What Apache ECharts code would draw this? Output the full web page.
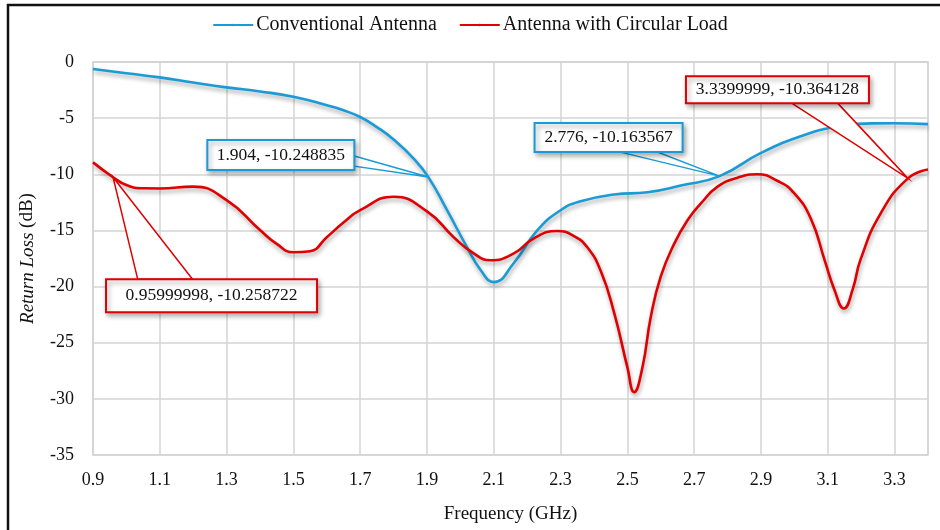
<!DOCTYPE html>
<html>
<head>
<meta charset="utf-8">
<script src="https://cdn.jsdelivr.net/npm/echarts@6/dist/echarts.min.js"></script>
<style>
  html, body { margin: 0; padding: 0; background: #fff; }
  #chart { width: 940px; height: 530px; }
</style>
</head>
<body>
<div id="chart"></div>
<script>
// frequency (GHz) / return loss (dB)
var convFreq = [0.9, 1.0, 1.1, 1.2, 1.3, 1.4, 1.5, 1.6, 1.65, 1.7, 1.75, 1.8, 1.86, 1.904, 1.96, 2.02, 2.06, 2.1, 2.16, 2.23, 2.3, 2.36, 2.46, 2.56, 2.66, 2.776, 2.9, 3.03, 3.13, 3.23, 3.3, 3.4];
var convLoss = [-0.62, -1.0, -1.37, -1.82, -2.26, -2.62, -3.09, -3.85, -4.3, -4.9, -5.8, -6.9, -8.6, -10.25, -13.2, -16.5, -18.5, -19.6, -17.9, -15.0, -13.2, -12.4, -11.8, -11.6, -11.0, -10.16, -8.1, -6.5, -5.76, -5.47, -5.45, -5.53];

var loadFreq = [0.9, 0.96, 1.0, 1.05, 1.1, 1.2, 1.3, 1.4, 1.45, 1.5, 1.55, 1.6, 1.65, 1.7, 1.8, 1.9, 1.98, 2.04, 2.09, 2.16, 2.22, 2.29, 2.34, 2.38, 2.42, 2.46, 2.5, 2.52, 2.545, 2.57, 2.6, 2.64, 2.68, 2.72, 2.77, 2.83, 2.89, 2.95, 3.0, 3.05, 3.09, 3.12, 3.148, 3.175, 3.198, 3.258, 3.34, 3.4];
var loadLoss = [-8.94, -10.26, -10.96, -11.25, -11.26, -11.1, -12.3, -14.97, -16.2, -16.95, -16.85, -15.6, -14.3, -13.2, -12.0, -13.3, -15.6, -17.05, -17.65, -17.05, -15.7, -15.05, -15.5, -16.5, -18.6, -22.3, -27.2, -29.4, -27.2, -22.7, -19.1, -16.2, -14.1, -12.6, -11.1, -10.3, -10.0, -10.6, -11.7, -14.0, -17.6, -20.3, -21.95, -20.2, -17.6, -13.5, -10.36, -9.57];

var seriesNames = ['Conventional Antenna', 'Antenna with Circular Load'];
var seriesColors = ['#1a9bd7', '#e00000'];

// callout points [freq, loss, series index]
var calloutPoints = [
    [1.904, -10.248835, 0],
    [2.776, -10.163567, 0],
    [0.95999998, -10.258722, 1],
    [3.3399999, -10.364128, 1]
];

// callout box placement relative to the point (px), and the side the pointer leaves from
var calloutLayout = [
    { dx: -221, dy: -37, w: 147, h: 30, side: 'right', a: 0.53, b: 0.87 },
    { dx: -185, dy: -53, w: 148, h: 29, side: 'bottom', a: 0.58, b: 0.83 },
    { dx: -7, dy: 102, w: 211, h: 33, side: 'top', a: 0.15, b: 0.41 },
    { dx: -222, dy: -102, w: 183, h: 27, side: 'bottom', a: 0.58, b: 0.83 }
];

function pairs(xs, ys) {
    var out = [];
    for (var i = 0; i < xs.length; i++) out.push([xs[i], ys[i]]);
    return out;
}

var font = '"Liberation Serif", "Times New Roman", serif';
var gridColor = '#d4d4d4';

var myChart = echarts.init(document.getElementById('chart'));

var lineShadow = { shadowColor: 'rgba(0,0,0,0.35)', shadowBlur: 4, shadowOffsetX: 1, shadowOffsetY: 3 };

var option = {
    backgroundColor: '#fff',
    animation: false,
    legend: {
        top: 10,
        left: 'center',
        itemWidth: 40,
        itemHeight: 3,
        itemGap: 22,
        textStyle: { fontFamily: font, fontSize: 20, color: '#111', padding: [0, 0, 0, -2] },
        data: seriesNames
    },
    grid: {
        left: 93, right: 12, top: 62, bottom: 75,
        show: true, borderColor: gridColor, borderWidth: 1.5
    },
    xAxis: {
        type: 'value',
        min: 0.9, max: 3.4, interval: 0.2,
        name: 'Frequency (GHz)',
        nameLocation: 'middle',
        nameGap: 50,
        nameTextStyle: { fontFamily: font, fontSize: 19, color: '#111' },
        axisLine: { lineStyle: { color: gridColor, width: 1.5 } },
        axisTick: { show: false },
        axisLabel: {
            fontFamily: font, fontSize: 18, color: '#111', margin: 16,
            showMaxLabel: false,
            formatter: function (v) { return v.toFixed(1); }
        },
        splitLine: { show: true, lineStyle: { color: gridColor, width: 1.5 } }
    },
    yAxis: {
        type: 'value',
        min: -35, max: 0, interval: 5,
        name: '{i|Return Loss} (dB)',
        nameLocation: 'middle',
        nameRotate: 90,
        nameGap: 56,
        nameTextStyle: {
            fontFamily: font, fontSize: 19, color: '#111',
            rich: { i: { fontFamily: font, fontSize: 19, fontStyle: 'italic', color: '#111' } }
        },
        axisLine: { show: true, lineStyle: { color: gridColor, width: 1.5 } },
        axisTick: { show: false },
        axisLabel: { fontFamily: font, fontSize: 18, color: '#111', margin: 19 },
        splitLine: { show: true, lineStyle: { color: gridColor, width: 1.5 } }
    },
    series: [
        {
            name: seriesNames[0], type: 'line', smooth: 0.5, symbol: 'none',
            color: seriesColors[0],
            lineStyle: Object.assign({ width: 2.6, color: seriesColors[0] }, lineShadow),
            data: pairs(convFreq, convLoss)
        },
        {
            name: seriesNames[1], type: 'line', smooth: 0.5, symbol: 'none',
            color: seriesColors[1],
            lineStyle: Object.assign({ width: 2.6, color: seriesColors[1] }, lineShadow),
            data: pairs(loadFreq, loadLoss)
        }
    ]
};
myChart.setOption(option);

function buildCallouts() {
    var els = [{
        type: 'rect', z: 0, silent: true,
        shape: { x: 8, y: 5, width: 950, height: 560 },
        style: { fill: 'none', stroke: '#111', lineWidth: 2.5 }
    }];
    for (var i = 0; i < calloutPoints.length; i++) {
        var p = calloutPoints[i];
        var L = calloutLayout[i];
        var col = seriesColors[p[2]];
        var pt = myChart.convertToPixel({ gridIndex: 0 }, [p[0], p[1]]);
        var bx = pt[0] + L.dx, by = pt[1] + L.dy;
        var b1, b2;
        if (L.side === 'right') {
            b1 = [bx + L.w, by + L.h * L.a]; b2 = [bx + L.w, by + L.h * L.b];
        } else if (L.side === 'bottom') {
            b1 = [bx + L.w * L.a, by + L.h]; b2 = [bx + L.w * L.b, by + L.h];
        } else {
            b1 = [bx + L.w * L.a, by]; b2 = [bx + L.w * L.b, by];
        }
        els.push({
            type: 'polygon', z: 10, silent: true,
            shape: { points: [b1, pt, b2] },
            style: { fill: '#fff', stroke: col, lineWidth: 1.5 }
        });
        els.push({
            type: 'rect', z: 11, silent: true,
            shape: { x: bx, y: by, width: L.w, height: L.h },
            style: {
                fill: '#fff', stroke: col, lineWidth: 2,
                shadowColor: 'rgba(0,0,0,0.35)', shadowBlur: 5, shadowOffsetX: 2, shadowOffsetY: 3
            }
        });
        els.push({
            type: 'text', z: 12, silent: true,
            x: bx + L.w / 2, y: by + L.h / 2,
            style: {
                text: p[0] + ', ' + p[1],
                fontFamily: font, fontSize: 17.5, fill: '#111',
                align: 'center', verticalAlign: 'middle'
            }
        });
    }
    myChart.setOption({ graphic: { elements: els } });
}
buildCallouts();
</script>
</body>
</html>
